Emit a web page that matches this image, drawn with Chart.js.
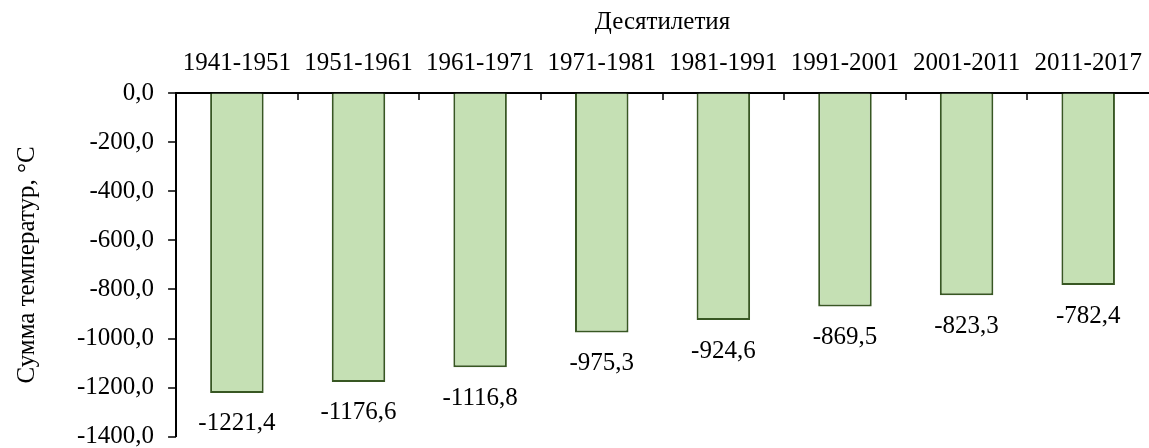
<!DOCTYPE html>
<html>
<head>
<meta charset="utf-8">
<script src="https://cdn.jsdelivr.net/npm/chart.js@4/dist/chart.umd.min.js"></script>
<style>
  body { margin: 0; background: #fff; }
  #wrap { width: 1149px; height: 448px; }
</style>
</head>
<body>
<div id="wrap"><canvas id="myChart"></canvas></div>
<script>
const decades = ['1941-1951', '1951-1961', '1961-1971', '1971-1981', '1981-1991', '1991-2001', '2001-2011', '2011-2017'];
const tempSums = [-1221.4, -1176.6, -1116.8, -975.3, -924.6, -869.5, -823.3, -782.4];
const yMin = -1400;
const yMax = 0;
const yStep = 200;

const FONT = 'Liberation Serif, Times New Roman, serif';
const fmt = v => v.toFixed(1).replace('.', ',');

// labels under the bar ends, like excel "outside end"
const barLabels = {
  id: 'barLabels',
  afterDatasetsDraw(chart) {
    const {ctx} = chart;
    const meta = chart.getDatasetMeta(0);
    ctx.save();
    ctx.font = '25px ' + FONT;
    ctx.fillStyle = '#000';
    ctx.textAlign = 'center';
    ctx.textBaseline = 'middle';
    meta.data.forEach((bar, i) => {
      ctx.fillText(fmt(tempSums[i]), bar.x, bar.y + 31);
    });
    ctx.restore();
  }
};

// tick marks drawn by hand: x ticks point down into the plot, y ticks point out
const tickMarks = {
  id: 'tickMarks',
  afterDraw(chart) {
    const {ctx} = chart;
    const xs = chart.scales.x;
    const ys = chart.scales.y;
    ctx.save();
    ctx.strokeStyle = '#000';
    ctx.lineWidth = 1.5;
    ctx.beginPath();
    for (let i = 1; i < decades.length; i++) {
      const px = Math.round(xs.getPixelForValue(i - 0.5));
      ctx.moveTo(px, xs.bottom);
      ctx.lineTo(px, xs.bottom + 7);
    }
    ys.ticks.forEach(t => {
      const py = Math.round(ys.getPixelForValue(t.value));
      ctx.moveTo(ys.right - 8, py);
      ctx.lineTo(ys.right, py);
    });
    ctx.stroke();
    ctx.restore();
  }
};

const ctx = document.getElementById('myChart').getContext('2d');
const myChart = new Chart(ctx, {
  type: 'bar',
  data: {
    labels: decades,
    datasets: [{
      data: tempSums,
      backgroundColor: '#C5E0B4',
      borderColor: '#385723',
      borderWidth: 2,
      barPercentage: 0.44,
      categoryPercentage: 1
    }]
  },
  plugins: [barLabels, tickMarks],
  options: {
    responsive: true,
    maintainAspectRatio: false,
    animation: false,
    layout: {
      padding: { top: 7, right: 0, left: 12, bottom: 0 }
    },
    plugins: {
      legend: { display: false },
      tooltip: { enabled: false }
    },
    scales: {
      x: {
        position: 'top',
        offset: true,
        grid: {
          drawOnChartArea: false,
          tickColor: 'transparent',
          tickLength: 15
        },
        border: { color: '#000', width: 2 },
        ticks: {
          color: '#000',
          font: { family: FONT, size: 25 },
          padding: 0,
          maxRotation: 0,
          autoSkip: false
        },
        title: {
          display: true,
          text: 'Десятилетия',
          color: '#000',
          font: { family: FONT, size: 25 },
          padding: { top: 0, bottom: 11 }
        }
      },
      y: {
        min: yMin,
        max: yMax,
        grid: {
          drawOnChartArea: false,
          tickColor: 'transparent',
          tickLength: 22
        },
        border: { color: '#000', width: 2 },
        ticks: {
          stepSize: yStep,
          color: '#000',
          font: { family: FONT, size: 25, lineHeight: 0.9 },
          padding: 0,
          callback: function(value) {
            return fmt(value);
          }
        },
        title: {
          display: true,
          text: 'Сумма температур, °C',
          color: '#000',
          font: { family: FONT, size: 25 },
          padding: { top: 0, bottom: 35 }
        }
      }
    }
  }
});
</script>
</body>
</html>
